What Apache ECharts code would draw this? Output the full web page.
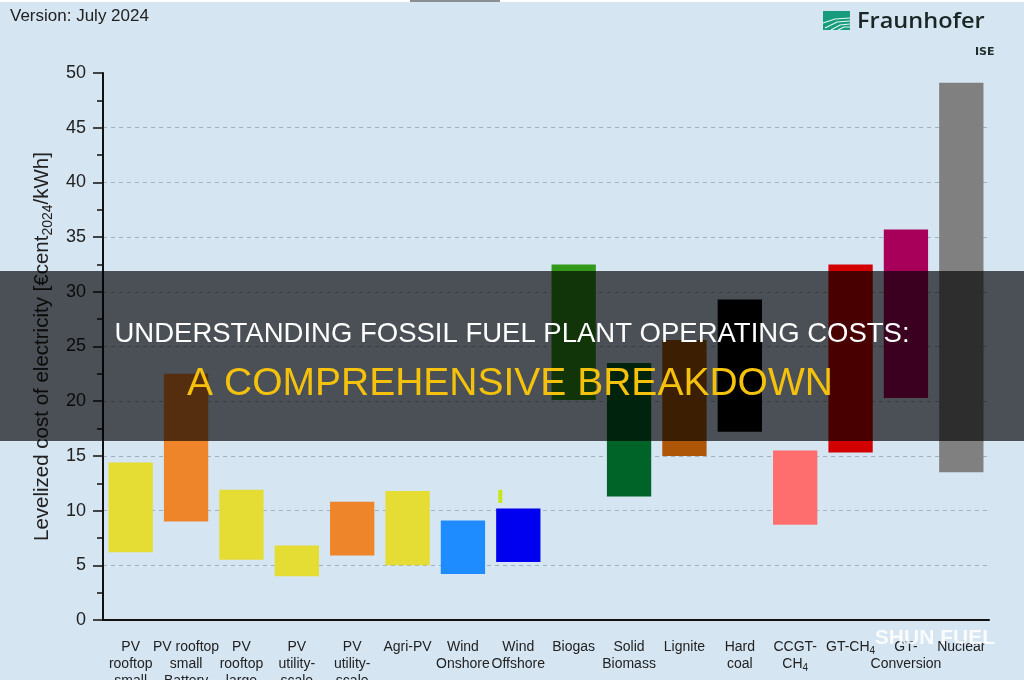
<!DOCTYPE html>
<html>
<head>
<meta charset="utf-8">
<title>LCOE</title>
<script src="https://cdn.jsdelivr.net/npm/echarts@6/dist/echarts.min.js"></script>
<style>
  html, body { margin: 0; padding: 0; background: #d5e5f2; }
  #chart { width: 1024px; height: 680px; }
</style>
</head>
<body>
<div id="chart"></div>
<script>
// technologies on the x axis (rich tag {s|..} = subscript)
var categories = [
  'PV\nrooftop\nsmall', 'PV rooftop\nsmall\nBattery', 'PV\nrooftop\nlarge', 'PV\nutility-\nscale',
  'PV\nutility-\nscale\nBattery', 'Agri-PV', 'Wind\nOnshore', 'Wind\nOffshore',
  'Biogas', 'Solid\nBiomass', 'Lignite', 'Hard\ncoal',
  'CCGT-\nCH{s|4}', 'GT-CH{s|4}', 'GT-\nConversion', 'Nuclear'
];
// lower / upper end of each cost range, €cent2024/kWh
var lowValues  = [6.2, 9.0, 5.5, 4.0, 5.9, 5.0, 4.2, 5.3, 20.1, 11.3, 15.0, 17.2, 8.7, 15.3, 20.3, 13.5];
var highValues = [14.4, 22.5, 11.9, 6.8, 10.8, 11.8, 9.1, 10.2, 32.5, 23.5, 25.6, 29.3, 15.5, 32.5, 35.7, 49.1];
var barColors = [
  '#e5dc34', '#ef852b', '#e5dc34', '#e5dc34', '#ef852b', '#e5dc34', '#1e8cff', '#0000f0',
  '#33991a', '#006428', '#ad5608', '#000000', '#ff6e6e', '#d20000', '#a8005a', '#808080'
];
// small stray mark next to Wind Offshore: [category index, low, high]
var strayMark = [[7, 10.7, 11.9]];
var yTicks = { min: 0, max: 50, interval: 5 };

var font = 'Liberation Sans, Arial, sans-serif';
var myChart = echarts.init(document.getElementById('chart'));

myChart.setOption({
  backgroundColor: '#d5e5f2',
  animation: false,
  grid: { left: 103, right: 35, top: 73, bottom: 60, outerBoundsMode: 'none', containLabel: false },
  xAxis: {
    type: 'category',
    data: categories,
    axisLine: { lineStyle: { color: '#111', width: 2 } },
    axisTick: { alignWithLabel: true, length: 8, lineStyle: { color: '#111', width: 1.5 } },
    axisLabel: {
      interval: 0, margin: 19, color: '#222', fontFamily: font, fontSize: 14, lineHeight: 17,
      rich: { s: { fontSize: 10, lineHeight: 10, verticalAlign: 'bottom', fontFamily: font, color: '#222' } }
    }
  },
  yAxis: {
    type: 'value',
    min: yTicks.min, max: yTicks.max, interval: yTicks.interval,
    name: 'Levelized cost of electricity [€cent{s|2024}/kWh]',
    nameLocation: 'middle',
    nameRotate: 90,
    nameGap: 47,
    nameTextStyle: {
      fontFamily: font, fontSize: 20.5, color: '#222', lineHeight: 26,
      rich: { s: { fontSize: 14, lineHeight: 14, verticalAlign: 'bottom', fontFamily: font, color: '#222' } }
    },
    axisLine: { show: true, lineStyle: { color: '#111', width: 2 } },
    axisTick: { show: true, length: 10, lineStyle: { color: '#111', width: 1.5 } },
    minorTick: { show: true, splitNumber: 2, length: 6, lineStyle: { color: '#111', width: 1.5 } },
    axisLabel: { margin: 17, color: '#222', fontFamily: font, fontSize: 18 },
    splitLine: {
      show: true, showMinLine: false, showMaxLine: false,
      lineStyle: { color: '#9fb0bf', width: 1, type: [4, 4] }
    }
  },
  series: [
    {
      name: 'base',
      type: 'bar',
      stack: 'range',
      barWidth: '80%',
      silent: true,
      itemStyle: { color: 'transparent' },
      data: lowValues
    },
    {
      name: 'range',
      type: 'bar',
      stack: 'range',
      barWidth: '80%',
      data: highValues.map(function (h, i) {
        return { value: +(h - lowValues[i]).toFixed(2), itemStyle: { color: barColors[i] } };
      })
    },
    {
      name: 'stray',
      type: 'custom',
      silent: true,
      data: strayMark,
      renderItem: function (params, api) {
        var top = api.coord([api.value(0), api.value(2)]);
        var bot = api.coord([api.value(0), api.value(1)]);
        return {
          type: 'rect',
          shape: { x: top[0] - 20, y: top[1], width: 4, height: bot[1] - top[1] },
          style: { fill: '#c8e614' }
        };
      }
    }
  ],
  graphic: [
    { type: 'rect', left: 0, top: 0, shape: { width: 1024, height: 2 }, style: { fill: '#ffffff' } },
    { type: 'line', shape: { x1: 410, y1: 1, x2: 500, y2: 1 }, style: { stroke: '#8a8f94', lineWidth: 2 } },
    {
      type: 'text', x: 10, y: 8,
      style: { text: 'Version: July 2024', font: '17px ' + font, fill: '#222' }
    },
    // Fraunhofer logo
    {
      type: 'group', x: 823, y: 11,
      children: [
        { type: 'rect', shape: { x: 0, y: 0, width: 27, height: 19 }, style: { fill: '#179c7d' } },
        { type: 'polyline', shape: { points: [[0, 12], [12, 8], [27, 7]] }, style: { stroke: '#e8f5f0', lineWidth: 1.2, fill: null } },
        { type: 'polyline', shape: { points: [[2, 17], [14, 11], [27, 10]] }, style: { stroke: '#e8f5f0', lineWidth: 1.2, fill: null } },
        { type: 'polyline', shape: { points: [[8, 19], [17, 14], [27, 13]] }, style: { stroke: '#e8f5f0', lineWidth: 1.2, fill: null } },
        { type: 'polyline', shape: { points: [[15, 19], [21, 16], [27, 16]] }, style: { stroke: '#e8f5f0', lineWidth: 1.2, fill: null } }
      ]
    },
    {
      type: 'text', x: 857, y: 12, scaleX: 1.12,
      style: { text: 'Fraunhofer', font: '600 21px Open Sans, DejaVu Sans, sans-serif', fill: '#1a2626' }
    },
    {
      type: 'text', x: 975, y: 47,
      style: { text: 'ISE', font: 'bold 11px DejaVu Sans, sans-serif', fill: '#1f2d2d' }
    },
    // dark title band on top of the chart
    {
      type: 'rect', z: 100, shape: { x: 0, y: 271, width: 1024, height: 170 },
      style: { fill: 'rgba(0,0,0,0.65)' }
    },
    {
      type: 'text', z: 101, x: 512, y: 334,
      style: {
        text: 'UNDERSTANDING FOSSIL FUEL PLANT OPERATING COSTS:',
        font: '27.5px ' + font, fill: '#ffffff', textAlign: 'center', textVerticalAlign: 'middle'
      }
    },
    {
      type: 'text', z: 101, x: 510, y: 384,
      style: {
        text: 'A COMPREHENSIVE BREAKDOWN',
        font: '39px ' + font, fill: '#f4c20d', textAlign: 'center', textVerticalAlign: 'middle'
      }
    },
    {
      type: 'text', z: 101, x: 995, y: 638,
      style: {
        text: 'SHUN FUEL', font: 'bold 21px ' + font, fill: 'rgba(255,255,255,0.85)',
        textAlign: 'right', textVerticalAlign: 'middle'
      }
    }
  ]
});
</script>
</body>
</html>
